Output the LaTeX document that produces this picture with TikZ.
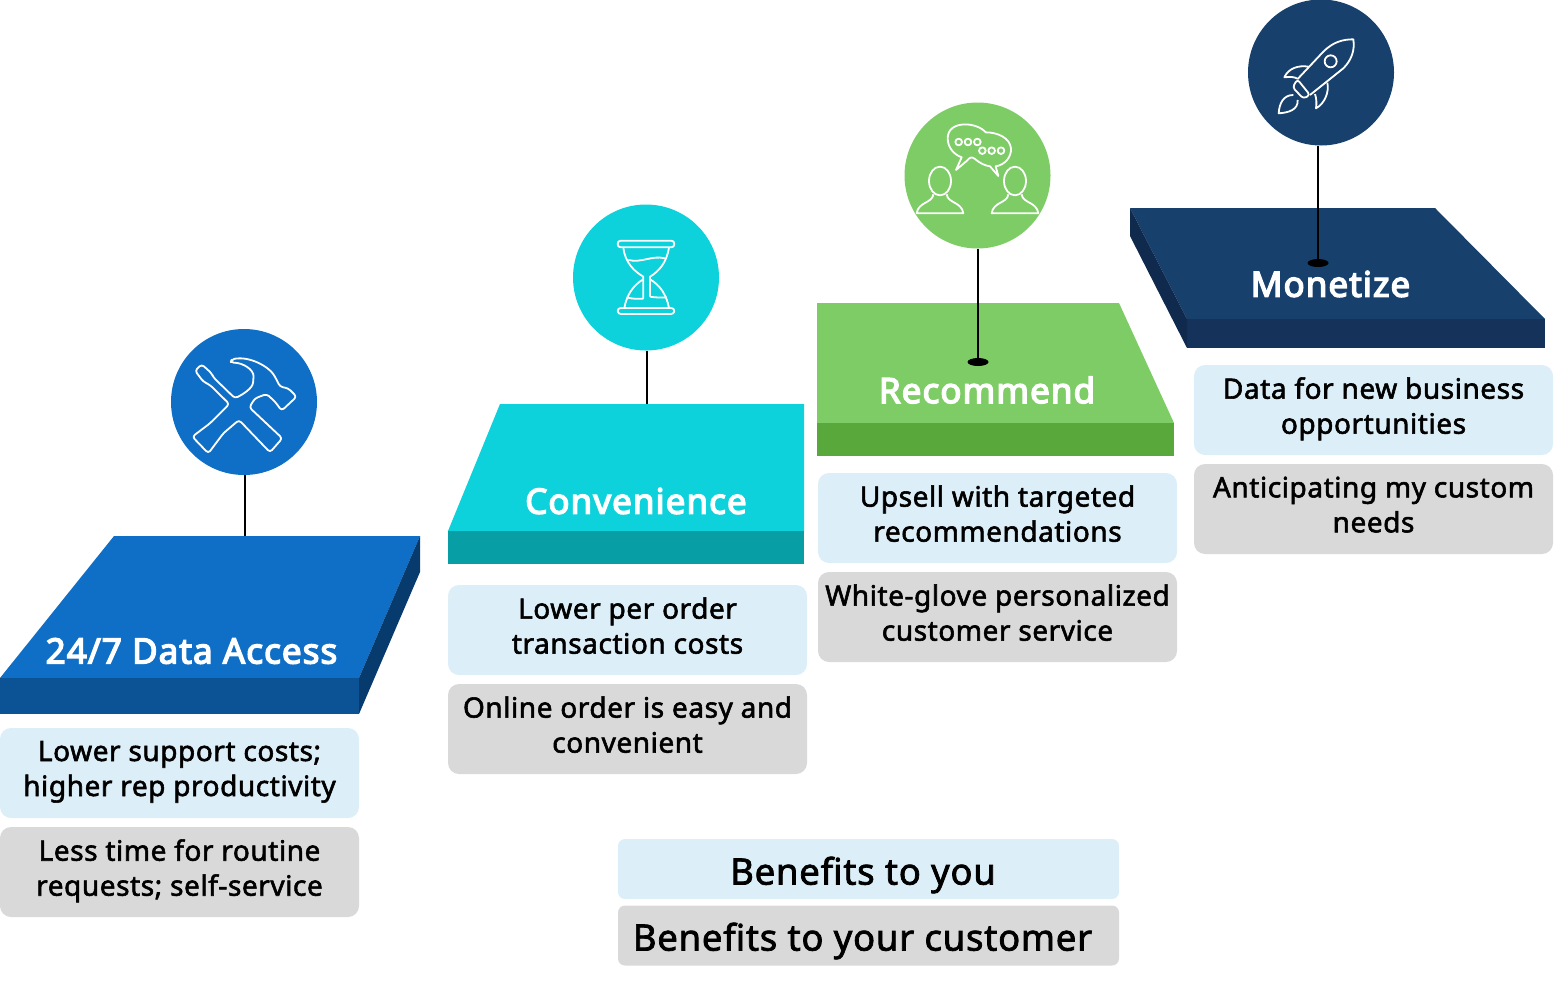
\documentclass[tikz,border=0pt]{standalone}
\usepackage{fontspec}
\usetikzlibrary{shapes.geometric}
\setmainfont{Noto Sans}[FakeBold=2,LetterSpace=2]
\newfontfamily\headfont{Noto Sans}[FakeBold=4,LetterSpace=3]
\definecolor{bluetop}{HTML}{0F6FC6}
\definecolor{bluefront}{HTML}{0B5394}
\definecolor{blueside}{HTML}{073B6E}
\definecolor{cyantop}{HTML}{0DD1DB}
\definecolor{cyanfront}{HTML}{089EA6}
\definecolor{greentop}{HTML}{7DCC65}
\definecolor{greenfront}{HTML}{58A83C}
\definecolor{navytop}{HTML}{17406D}
\definecolor{navyfront}{HTML}{14325A}
\definecolor{navyside}{HTML}{0F2A4D}
\definecolor{lightbox}{HTML}{DCEEF7}
\definecolor{greybox}{HTML}{D9D9D9}
\begin{document}
\begin{tikzpicture}[x=1pt,y=-1pt,
	card/.style={minimum width=359pt,minimum height=90pt,rounded corners=11pt,align=center,inner sep=0pt,font=\fontsize{28}{35}\selectfont,
		execute at begin node={\rule{0pt}{30pt}},execute at end node={\rule[-9pt]{0pt}{9pt}}},
	legendcard/.style={minimum width=501pt,minimum height=60pt,rounded corners=7pt,inner sep=0pt},
	legendtext/.style={inner sep=0pt,font=\fontsize{36.5}{42}\selectfont},
	badge/.style={circle,minimum size=146pt,inner sep=0pt},
	title/.style={text=white,inner sep=0pt,font=\headfont\fontsize{35}{42}\selectfont},
	pin/.style={ellipse,fill=black,minimum width=21pt,minimum height=8pt,inner sep=0pt},
	stem/.style={line width=2pt},
	icon/.style={white,line width=1.8pt,line join=round}]
		\useasboundingbox (0,0) rectangle (1560,983);
		% platforms
		\fill[bluetop] (114,536) -- (420,536) -- (359,678) -- (0,678) -- cycle;
		\fill[bluefront] (0,678) rectangle (359,714);
		\fill[blueside] (359,678) -- (420,536) -- (420,572) -- (359,714) -- cycle;
		\fill[cyantop] (500,404) -- (804,404) -- (804,531) -- (448,531) -- cycle;
		\fill[cyanfront] (448,531) rectangle (804,564);
		\fill[greentop] (817,303) -- (1119,303) -- (1174,423) -- (817,423) -- cycle;
		\fill[greenfront] (817,423) rectangle (1174,456);
		\fill[navytop] (1130,208) -- (1435,208) -- (1545,319) -- (1187,319) -- cycle;
		\fill[navyfront] (1187,319) rectangle (1545,348);
		\fill[navyside] (1130,208) -- (1187,319) -- (1187,348) -- (1130,236) -- cycle;
		% badges
		\node [badge,fill=bluetop] (access) at (244,402) {};
		\node [badge,fill=cyantop] (hour) at (646,277.5) {};
		\node [badge,fill=greentop] (talk) at (977.5,175.5) {};
		\node [badge,fill=navytop] (rocket) at (1321,72.5) {};
		% stems
		\coordinate (accessend) at (245,536);
		\coordinate (hourend) at (647,404);
		\node [pin] (talkpin) at (978,362) {};
		\node [pin] (rocketpin) at (1318,263) {};
		\draw[stem] (accessend |- access.south) -- (accessend);
		\draw[stem] (hourend |- hour.south) -- (hourend);
		\draw[stem] (talkpin |- talk.south) -- (talkpin);
		\draw[stem] (rocketpin |- rocket.south) -- (rocketpin);
		% titles
		\node [title] (accesstitle) at (191.5,651) {24/7 Data Access};
		\node [title] (hourtitle) at (636,501) {Convenience};
		\node [title] (talktitle) at (987,390) {Recommend};
		\node [title] (rockettitle) at (1330.5,284) {Monetize};
		% cards
		\node [card,fill=lightbox] (access1) at (179.5,773) {Lower support costs;\\higher rep productivity};
		\node [card,fill=greybox] (access2) at (179.5,872) {Less time for routine\\requests; self-service};
		\node [card,fill=lightbox] (hour1) at (627.5,630) {Lower per order\\transaction costs};
		\node [card,fill=greybox] (hour2) at (627.5,729) {Online order is easy and\\convenient};
		\node [card,fill=lightbox] (talk1) at (997.5,518) {Upsell with targeted\\recommendations};
		\node [card,fill=greybox] (talk2) at (997.5,617) {White-glove personalized\\customer service};
		\node [card,fill=lightbox] (rocket1) at (1373.5,410) {Data for new business\\opportunities};
		\node [card,fill=greybox] (rocket2) at (1373.5,509) {Anticipating my custom\\needs};
		% legend
		\node [legendcard,fill=lightbox] (legend1) at (868.5,869) {};
		\node [legendcard,fill=greybox] (legend2) at (868.5,935.5) {};
		\node [legendtext] (legendtext1) at (863,875) {Benefits to you};
		\node [legendtext] (legendtext2) at (862.5,941) {Benefits to your customer};
		% hammer and screwdriver
		\begin{scope}[shift={(160,320)},x=0.3333pt,y=-0.3333pt]
			\draw[icon,rounded corners=3pt] (208,252) -- (150,195) -- (130,185) -- (105,152) -- (125,133) -- (155,160) -- (160,172) -- (225,235) .. controls (250,222) and (278,205) .. (280,178) .. controls (282,150) and (250,128) .. (212,128) -- (215,118) .. controls (270,108) and (325,140) .. (345,170) -- (360,200) -- (385,205) -- (410,230) -- (365,272) -- (345,245) -- (320,222) -- (285,235) -- (268,262) -- (367,355) -- (330,397) -- (237,300) -- (190,340) -- (145,400) -- (97,350) -- (150,310) -- cycle;
		\end{scope}
		% hourglass
		\begin{scope}[shift={(565,200)},x=0.3333pt,y=-0.3333pt]
			\draw[icon,rounded corners=3pt] (158,122) rectangle (328,142);
			\draw[icon,rounded corners=3pt] (158,324) rectangle (328,342);
			\draw[icon] (175,142) .. controls (180,190) and (210,215) .. (235,230) -- (235,296);
			\draw[icon] (312,142) .. controls (305,190) and (280,215) .. (255,230) -- (255,290);
			\draw[icon] (235,238) .. controls (205,255) and (185,285) .. (178,324);
			\draw[icon] (255,238) .. controls (285,255) and (305,285) .. (312,324);
			\draw[icon] (190,180) .. controls (230,190) and (260,165) .. (300,175);
			\draw[icon] (185,292) .. controls (200,297) and (220,297) .. (235,296);
			\draw[icon] (255,290) .. controls (270,293) and (290,293) .. (305,292);
		\end{scope}
		% two people talking
		\begin{scope}[shift={(895,95)},x=0.3333pt,y=-0.3333pt]
			\draw[icon] (135,258) ellipse [x radius=33,y radius=43];
			\draw[icon] (360,258) ellipse [x radius=33,y radius=43];
			\draw[icon] (115,298) .. controls (112,325) and (70,320) .. (65,355) -- (205,355) .. controls (200,320) and (158,325) .. (155,298);
			\draw[icon] (340,298) .. controls (337,325) and (295,320) .. (290,355) -- (430,355) .. controls (425,320) and (383,325) .. (380,298);
			\draw[icon] (272,112) .. controls (245,80) and (158,75) .. (158,130) .. controls (158,160) and (180,180) .. (200,187) -- (183,225) -- (215,198) .. controls (225,185) and (232,185) .. (240,192) .. controls (255,205) and (270,212) .. (285,214) -- (310,243) -- (302,214) .. controls (330,210) and (350,185) .. (348,160) .. controls (345,130) and (310,112) .. (272,112) -- cycle;
			\foreach \dotx in {191,219,247} \draw[icon] (\dotx,141) circle [radius=10];
			\foreach \dotx in {262,290,318} \draw[icon] (\dotx,167) circle [radius=10];
		\end{scope}
		% rocket
		\begin{scope}[shift={(1240,0)},x=0.3333pt,y=-0.3333pt]
			\draw[icon] (172,238) -- (250,155) .. controls (280,125) and (310,118) .. (340,118) .. controls (345,150) and (335,180) .. (310,205) -- (210,285);
			\draw[icon] (272,184) circle [radius=18];
			\draw[icon,rounded corners=3pt] (172,238) -- (158,262) -- (190,296) -- (210,285) -- cycle;
			\draw[icon] (205,200) .. controls (175,195) and (145,205) .. (133,232) .. controls (150,230) and (162,230) .. (172,236);
			\draw[icon] (262,248) .. controls (268,275) and (255,310) .. (228,325) .. controls (230,310) and (230,298) .. (225,282);
			\draw[icon] (160,285) .. controls (130,285) and (118,310) .. (116,340) .. controls (145,338) and (175,330) .. (173,300);
		\end{scope}
\end{tikzpicture}
\end{document}
